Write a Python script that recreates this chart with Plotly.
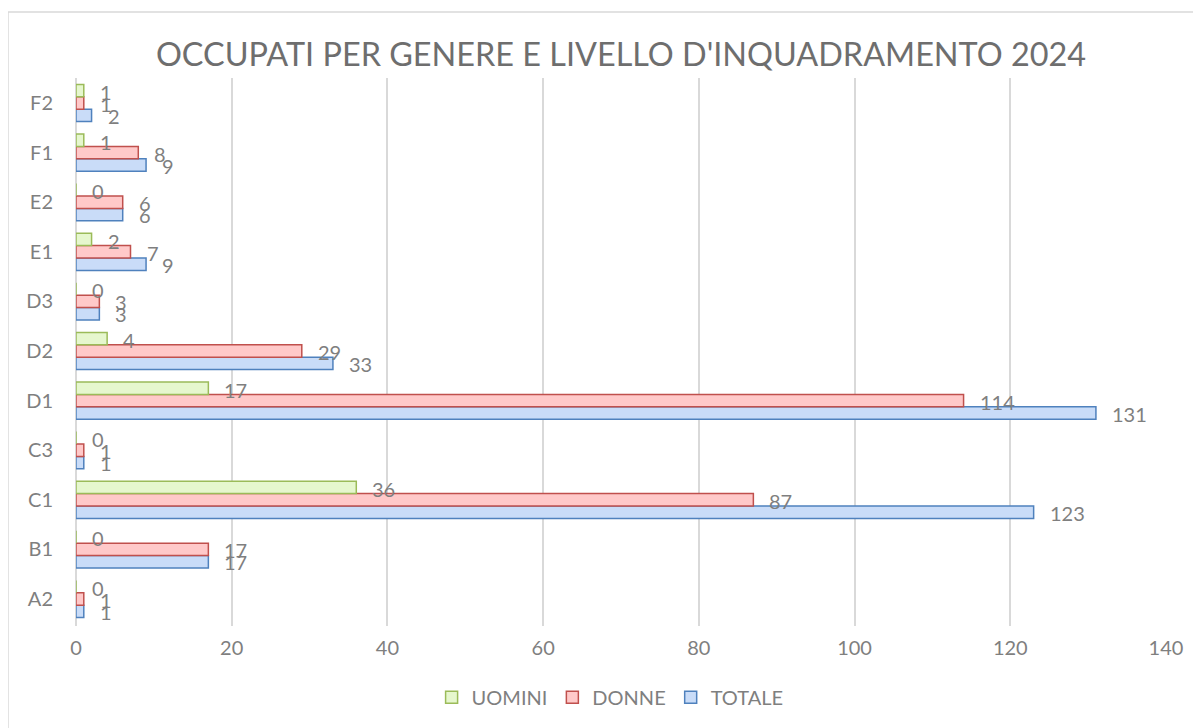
import plotly.graph_objects as go

categories = ["A2", "B1", "C1", "C3", "D1", "D2", "D3", "E1", "E2", "F1", "F2"]
uomini = [0, 0, 36, 0, 17, 4, 0, 2, 0, 1, 1]
donne = [1, 17, 87, 1, 114, 29, 3, 7, 6, 8, 1]
totale = [1, 17, 123, 1, 131, 33, 3, 9, 6, 9, 2]
x_ticks = [0, 20, 40, 60, 80, 100, 120, 140]

FONT = "Lato"
GRAY = "#7F7F7F"

fig = go.Figure()
series = [
    ("TOTALE", totale, "#C9DCF8", "#4F81BD", -13),
    ("DONNE", donne, "#FFC9C9", "#C0504D", -1),
    ("UOMINI", uomini, "#E6F7CE", "#9BBB59", 11),
]
for name, vals, fill, line, yshift in series:
    fig.add_trace(go.Bar(
        y=categories, x=vals, name=name, orientation="h",
        marker=dict(color=fill, line=dict(color=line, width=1.5)),
    ))
    for cat, v in zip(categories, vals):
        fig.add_annotation(x=v, y=cat, text=str(v), showarrow=False,
                           xanchor="left", yanchor="middle", xshift=14, yshift=yshift,
                           font=dict(family=FONT, size=20, color=GRAY))

fig.update_layout(
    width=1201, height=728,
    paper_bgcolor="white", plot_bgcolor="white",
    margin=dict(l=68, r=43, t=70, b=110, autoexpand=False),
    barmode="group", bargap=0.25, bargroupgap=0,
    title=dict(text="OCCUPATI PER GENERE E LIVELLO D'INQUADRAMENTO 2024",
               x=0.5, xref="paper", xanchor="center", y=0.9354, yanchor="middle",
               font=dict(family=FONT, size=32.4, color="#6E6E6E")),
    xaxis=dict(range=[0, 140], tickvals=x_ticks, showgrid=True,
               gridcolor="#D9D9D9", gridwidth=1.5, zeroline=True,
               zerolinecolor="#D9D9D9", zerolinewidth=1.5, showline=False,
               automargin=False, ticklabelstandoff=8,
               tickfont=dict(family=FONT, size=20, color=GRAY), ticks=""),
    yaxis=dict(categoryorder="array", categoryarray=categories,
               showgrid=False, zeroline=False, showline=False, ticks="",
               automargin=False, ticklabelstandoff=22,
               tickfont=dict(family=FONT, size=20, color=GRAY)),
    legend=dict(orientation="h", traceorder="reversed", x=0.49, xanchor="center",
                y=-0.13, yanchor="middle", itemwidth=30,
                font=dict(family=FONT, size=20, color=GRAY)),
    showlegend=True,
)
fig.add_shape(type="rect", xref="paper", yref="paper",
              x0=-0.0624, x1=1.2, y0=-0.4, y1=1.1204,
              line=dict(color="#D9D9D9", width=1.5), fillcolor="rgba(0,0,0,0)")

fig.write_html("out.html")
